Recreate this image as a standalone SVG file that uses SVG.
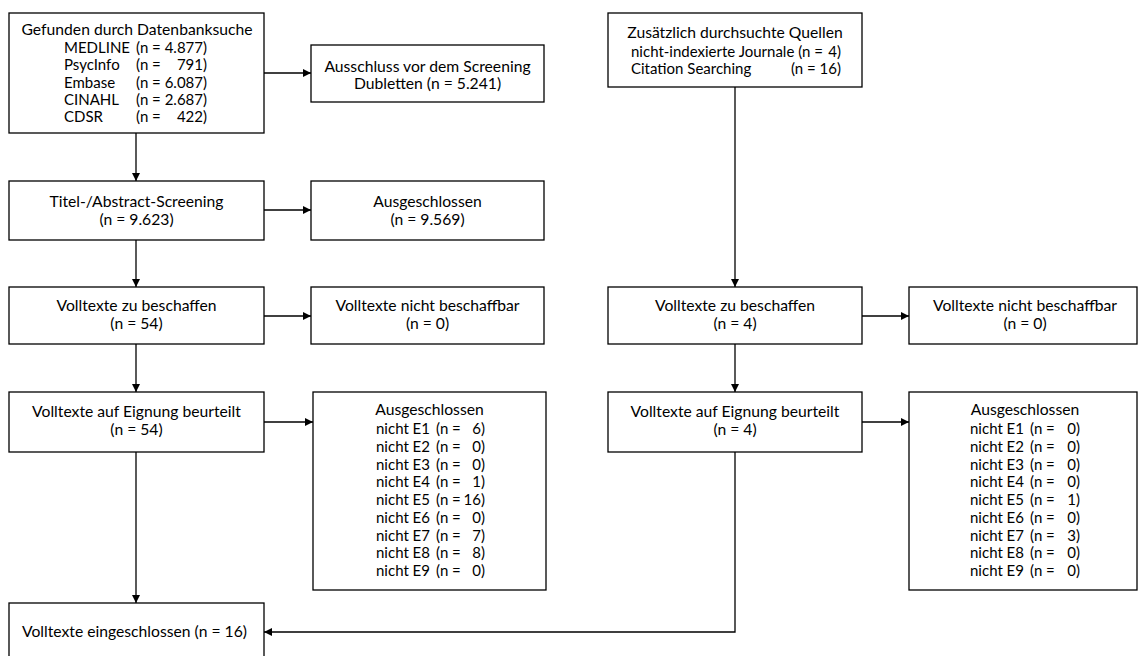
<svg xmlns="http://www.w3.org/2000/svg" width="1138" height="656" viewBox="0 0 1138 656">
<style>
.box{fill:#fff;stroke:#000;stroke-width:1.3}
.t{font-family:Lato,"Liberation Sans",sans-serif;font-size:15.7px;fill:#000}
.s{font-size:15px}
.c{text-anchor:middle}
.e{text-anchor:end}
.ln{fill:none;stroke:#000;stroke-width:1.3}
</style>
<defs>
<marker id="ah" viewBox="0 0 10 10" refX="10" refY="5" markerWidth="8" markerHeight="8" markerUnits="userSpaceOnUse" orient="auto">
<path d="M0,0 L10,5 L0,10 z" fill="#000"/>
</marker>
</defs>
<rect width="1138" height="656" fill="#fff"/>
<g id="connectors">
<path class="ln" d="M136,133 V181" marker-end="url(#ah)"/>
<path class="ln" d="M264,73 H311" marker-end="url(#ah)"/>
<path class="ln" d="M136,240 V287" marker-end="url(#ah)"/>
<path class="ln" d="M264,210 H311" marker-end="url(#ah)"/>
<path class="ln" d="M136,344 V392" marker-end="url(#ah)"/>
<path class="ln" d="M264,316 H311" marker-end="url(#ah)"/>
<path class="ln" d="M136,452 V603" marker-end="url(#ah)"/>
<path class="ln" d="M264,422 H313" marker-end="url(#ah)"/>
<path class="ln" d="M735,87 V287" marker-end="url(#ah)"/>
<path class="ln" d="M862,316 H909" marker-end="url(#ah)"/>
<path class="ln" d="M735,344 V392" marker-end="url(#ah)"/>
<path class="ln" d="M862,422 H909" marker-end="url(#ah)"/>
<path class="ln" d="M735,452 V632 H264" marker-end="url(#ah)"/>
</g>
<g id="db">
<rect class="box" x="9" y="13" width="255" height="120"/>
<text class="t c" x="137" y="35">Gefunden durch Datenbanksuche</text>
<text class="t s" x="64" y="53">MEDLINE</text><text class="t s" x="136" y="53">(n =</text><text class="t s e" x="207" y="53">4.877)</text>
<text class="t s" x="64" y="70">PsycInfo</text><text class="t s" x="136" y="70">(n =</text><text class="t s e" x="207" y="70">791)</text>
<text class="t s" x="64" y="87.5">Embase</text><text class="t s" x="136" y="87.5">(n =</text><text class="t s e" x="207" y="87.5">6.087)</text>
<text class="t s" x="64" y="105">CINAHL</text><text class="t s" x="136" y="105">(n =</text><text class="t s e" x="207" y="105">2.687)</text>
<text class="t s" x="64" y="122">CDSR</text><text class="t s" x="136" y="122">(n =</text><text class="t s e" x="207" y="122">422)</text>
</g>
<g id="dup">
<rect class="box" x="311" y="45" width="233" height="57"/>
<text class="t c" x="427.5" y="72">Ausschluss vor dem Screening</text>
<text class="t c" x="427.5" y="89">Dubletten (n = 5.241)</text>
</g>
<g id="other">
<rect class="box" x="608" y="13" width="254" height="74"/>
<text class="t c" x="735" y="38">Zusätzlich durchsuchte Quellen</text>
<text class="t s" x="631" y="57">nicht-indexierte Journale (n =</text><text class="t s e" x="841" y="57">4)</text>
<text class="t s" x="631" y="74">Citation Searching</text><text class="t s e" x="841" y="74">(n = 16)</text>
</g>
<g id="screen">
<rect class="box" x="9" y="181" width="255" height="59"/>
<text class="t c" x="136.5" y="207">Titel-/Abstract-Screening</text>
<text class="t c" x="136.5" y="225">(n = 9.623)</text>
</g>
<g id="excl1">
<rect class="box" x="311" y="181" width="233" height="59"/>
<text class="t c" x="427.5" y="207">Ausgeschlossen</text>
<text class="t c" x="427.5" y="225">(n = 9.569)</text>
</g>
<g id="retL">
<rect class="box" x="9" y="287" width="255" height="57"/>
<text class="t c" x="136.5" y="311">Volltexte zu beschaffen</text>
<text class="t c" x="136.5" y="329">(n = 54)</text>
</g>
<g id="notretL">
<rect class="box" x="311" y="287" width="233" height="57"/>
<text class="t c" x="427.5" y="311">Volltexte nicht beschaffbar</text>
<text class="t c" x="427.5" y="329">(n = 0)</text>
</g>
<g id="retR">
<rect class="box" x="608" y="287" width="254" height="57"/>
<text class="t c" x="735" y="311">Volltexte zu beschaffen</text>
<text class="t c" x="735" y="329">(n = 4)</text>
</g>
<g id="notretR">
<rect class="box" x="909" y="287" width="228" height="57"/>
<text class="t c" x="1025" y="311">Volltexte nicht beschaffbar</text>
<text class="t c" x="1025" y="329">(n = 0)</text>
</g>
<g id="eligL">
<rect class="box" x="9" y="392" width="255" height="60"/>
<text class="t c" x="136.5" y="417">Volltexte auf Eignung beurteilt</text>
<text class="t c" x="136.5" y="435">(n = 54)</text>
</g>
<g id="eligR">
<rect class="box" x="608" y="392" width="254" height="60"/>
<text class="t c" x="735" y="417">Volltexte auf Eignung beurteilt</text>
<text class="t c" x="735" y="435">(n = 4)</text>
</g>
<g id="exclL">
<rect class="box" x="313" y="392" width="233" height="198"/>
<text class="t c" x="429.5" y="415">Ausgeschlossen</text>
<text class="t s" x="376" y="434">nicht E1</text><text class="t s" x="436" y="434">(n =</text><text class="t s e" x="485" y="434">6)</text>
<text class="t s" x="376" y="452">nicht E2</text><text class="t s" x="436" y="452">(n =</text><text class="t s e" x="485" y="452">0)</text>
<text class="t s" x="376" y="469.5">nicht E3</text><text class="t s" x="436" y="469.5">(n =</text><text class="t s e" x="485" y="469.5">0)</text>
<text class="t s" x="376" y="487">nicht E4</text><text class="t s" x="436" y="487">(n =</text><text class="t s e" x="485" y="487">1)</text>
<text class="t s" x="376" y="505">nicht E5</text><text class="t s" x="436" y="505">(n =</text><text class="t s e" x="485" y="505">16)</text>
<text class="t s" x="376" y="523">nicht E6</text><text class="t s" x="436" y="523">(n =</text><text class="t s e" x="485" y="523">0)</text>
<text class="t s" x="376" y="540.5">nicht E7</text><text class="t s" x="436" y="540.5">(n =</text><text class="t s e" x="485" y="540.5">7)</text>
<text class="t s" x="376" y="558">nicht E8</text><text class="t s" x="436" y="558">(n =</text><text class="t s e" x="485" y="558">8)</text>
<text class="t s" x="376" y="576">nicht E9</text><text class="t s" x="436" y="576">(n =</text><text class="t s e" x="485" y="576">0)</text>
</g>
<g id="exclR">
<rect class="box" x="909" y="392" width="228" height="198"/>
<text class="t c" x="1025" y="415">Ausgeschlossen</text>
<text class="t s" x="970" y="434">nicht E1</text><text class="t s" x="1030" y="434">(n =</text><text class="t s e" x="1080" y="434">0)</text>
<text class="t s" x="970" y="452">nicht E2</text><text class="t s" x="1030" y="452">(n =</text><text class="t s e" x="1080" y="452">0)</text>
<text class="t s" x="970" y="469.5">nicht E3</text><text class="t s" x="1030" y="469.5">(n =</text><text class="t s e" x="1080" y="469.5">0)</text>
<text class="t s" x="970" y="487">nicht E4</text><text class="t s" x="1030" y="487">(n =</text><text class="t s e" x="1080" y="487">0)</text>
<text class="t s" x="970" y="505">nicht E5</text><text class="t s" x="1030" y="505">(n =</text><text class="t s e" x="1080" y="505">1)</text>
<text class="t s" x="970" y="523">nicht E6</text><text class="t s" x="1030" y="523">(n =</text><text class="t s e" x="1080" y="523">0)</text>
<text class="t s" x="970" y="540.5">nicht E7</text><text class="t s" x="1030" y="540.5">(n =</text><text class="t s e" x="1080" y="540.5">3)</text>
<text class="t s" x="970" y="558">nicht E8</text><text class="t s" x="1030" y="558">(n =</text><text class="t s e" x="1080" y="558">0)</text>
<text class="t s" x="970" y="576">nicht E9</text><text class="t s" x="1030" y="576">(n =</text><text class="t s e" x="1080" y="576">0)</text>
</g>
<g id="included">
<rect class="box" x="9" y="603" width="255" height="60"/>
<text class="t" x="22" y="637">Volltexte eingeschlossen (n = 16)</text>
</g>
</svg>
